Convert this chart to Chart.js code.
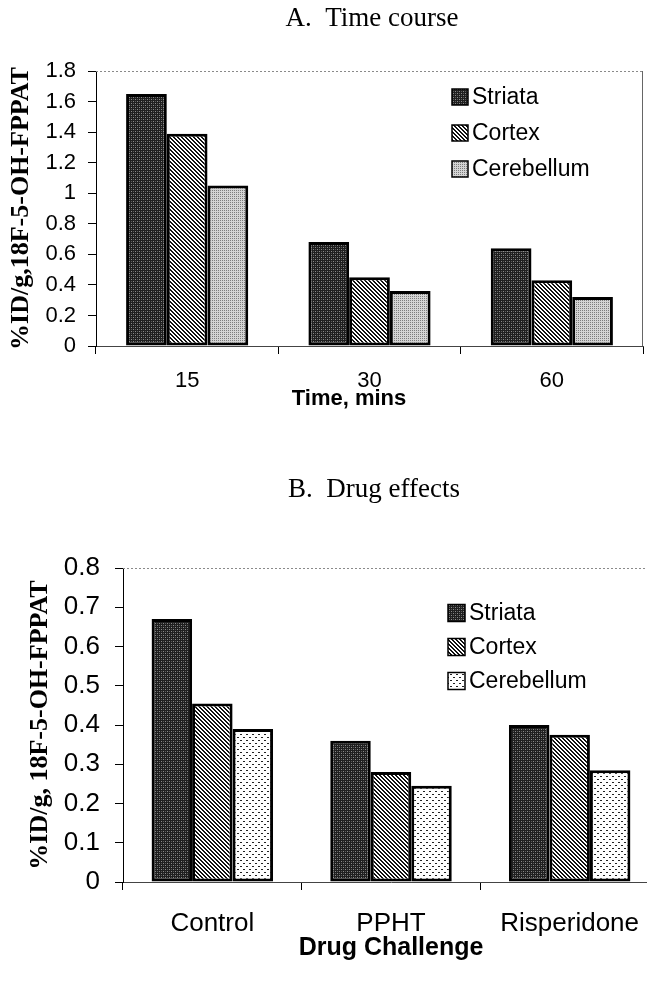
<!DOCTYPE html>
<html>
<head>
<meta charset="utf-8">
<script src="https://cdn.jsdelivr.net/npm/chart.js@4.4.1/dist/chart.umd.min.js"></script>
<style>
  html, body { margin: 0; padding: 0; background: #fff; overflow: hidden; }
  #page { position: relative; width: 647px; height: 982px; overflow: hidden; }
  #chartA { position: absolute; left: 0; top: 0; }
  #chartB { position: absolute; left: 0; top: 440px; }
</style>
</head>
<body>
<div id="page">
  <canvas id="chartA" width="647" height="420"></canvas>
  <canvas id="chartB" width="665" height="542"></canvas>
</div>
<script>
// panel A - time course
const timeLabels = ['15', '30', '60'];
const striataTime = [1.65, 0.68, 0.64];
const cortexTime = [1.39, 0.45, 0.43];
const cerebellumTime = [1.05, 0.36, 0.32];
const yTicksA = ['0', '0.2', '0.4', '0.6', '0.8', '1', '1.2', '1.4', '1.6', '1.8'];

// panel B - drug effects
const drugLabels = ['Control', 'PPHT', 'Risperidone'];
const striataDrug = [0.67, 0.36, 0.40];
const cortexDrug = [0.455, 0.28, 0.375];
const cerebellumDrug = [0.39, 0.245, 0.285];
const yTicksB = ['0', '0.1', '0.2', '0.3', '0.4', '0.5', '0.6', '0.7', '0.8'];

const seriesNames = ['Striata', 'Cortex', 'Cerebellum'];

// little tiles used as bar fills
function makePattern(size, base, dots) {
  const c = document.createElement('canvas');
  c.width = size; c.height = size;
  const g = c.getContext('2d');
  g.fillStyle = base;
  g.fillRect(0, 0, size, size);
  dots.forEach(d => {
    g.fillStyle = d[2];
    g.fillRect(d[0], d[1], 1, 1);
  });
  return g.createPattern(c, 'repeat');
}

const striataFill = makePattern(4, '#1f1f1f', [[1,1,'#8a8a8a'],[3,3,'#8a8a8a'],[1,3,'#5a5a5a'],[3,1,'#5a5a5a']]);
const cortexFill = makePattern(4, '#ffffff', [[0,0,'#111'],[1,0,'#111'],[1,1,'#111'],[2,1,'#111'],[2,2,'#111'],[3,2,'#111'],[3,3,'#111'],[0,3,'#111']]);
const cerebellumFillA = makePattern(2, '#d4d4d4', [[0,0,'#7c7c7c']]);
const cerebellumFillB = makePattern(6, '#ffffff', [[0,0,'#222'],[1,0,'#222'],[3,3,'#222'],[4,3,'#222']]);

const decor = {
  id: 'decor',
  afterDraw(chart, args, opts) {
    const ctx = chart.ctx;
    const a = chart.chartArea;
    ctx.save();
    // frame: dotted top, grey right
    ctx.strokeStyle = '#8a8a8a';
    ctx.lineWidth = 1;
    ctx.setLineDash([2, 2]);
    ctx.beginPath();
    ctx.moveTo(a.left, a.top + 0.5);
    ctx.lineTo(a.right, a.top + 0.5);
    ctx.stroke();
    ctx.setLineDash([]);
    ctx.strokeStyle = '#666';
    ctx.beginPath();
    ctx.moveTo(a.right - 0.5, a.top);
    ctx.lineTo(a.right - 0.5, a.bottom);
    ctx.stroke();

    // panel title
    ctx.fillStyle = '#000';
    ctx.textAlign = 'center';
    ctx.textBaseline = 'middle';
    ctx.font = '27px "Liberation Serif"';
    ctx.fillText(opts.title, opts.titleX, opts.titleY);

    if (opts.xTitle) {
      ctx.font = 'bold ' + opts.xTitleSize + 'px "Liberation Sans"';
      ctx.fillText(opts.xTitle, opts.xTitleX, opts.xTitleY);
    }

    // legend
    ctx.textAlign = 'left';
    ctx.font = '23px "Liberation Sans"';
    chart.data.datasets.forEach((ds, i) => {
      const cy = opts.legendY + i * opts.legendGap;
      const b = opts.legendBox;
      ctx.fillStyle = ds.backgroundColor;
      ctx.fillRect(opts.legendX, cy - b / 2, b, b);
      ctx.strokeStyle = '#000';
      ctx.lineWidth = 1.5;
      ctx.strokeRect(opts.legendX, cy - b / 2, b, b);
      ctx.fillStyle = '#000';
      ctx.fillText(ds.label, opts.legendX + b + 4, cy + 1);
    });
    ctx.restore();
  }
};

function buildChart(el, labels, sets, fills, yMax, yStep, yTicks, cfg) {
  return new Chart(el, {
    type: 'bar',
    data: {
      labels: labels,
      datasets: sets.map((d, i) => ({
        label: seriesNames[i],
        data: d,
        backgroundColor: fills[i],
        borderColor: '#000',
        borderWidth: 3,
        borderSkipped: false,
        categoryPercentage: cfg.catPct,
        barPercentage: 1
      }))
    },
    options: {
      responsive: false,
      animation: false,
      layout: { padding: cfg.padding },
      plugins: {
        legend: { display: false },
        tooltip: { enabled: false },
        decor: cfg.decor
      },
      scales: {
        x: {
          afterFit: s => { s.height = cfg.xHeight; },
          ticks: { color: '#000', font: { family: 'Liberation Sans', size: cfg.tickSize }, padding: cfg.xPad, maxRotation: 0 },
          grid: { drawOnChartArea: false, tickLength: 8, color: '#000', offset: true },
          border: { color: '#444', width: 1 },
          title: cfg.xTitle
        },
        y: {
          min: 0,
          max: yMax,
          afterFit: s => { s.width = cfg.yWidth; },
          ticks: {
            stepSize: yStep,
            color: '#000',
            font: { family: 'Liberation Sans', size: cfg.tickSize },
            padding: cfg.yPad,
            callback: (v, i) => yTicks[i]
          },
          grid: { drawOnChartArea: false, tickLength: 8, color: '#000' },
          border: { color: '#000', width: 1 },
          title: {
            display: true,
            text: cfg.yTitle,
            color: '#000',
            font: { family: 'Liberation Serif', size: 26, weight: 'bold' },
            padding: { top: cfg.yTitlePad, bottom: 0 }
          }
        }
      }
    },
    plugins: [decor]
  });
}

buildChart(document.getElementById('chartA'), timeLabels,
  [striataTime, cortexTime, cerebellumTime],
  [striataFill, cortexFill, cerebellumFillA],
  1.8, 0.2, yTicksA, {
    catPct: 0.67,
    padding: { left: 0, right: 4, top: 71, bottom: 0 },
    xHeight: 74,
    tickSize: 22,
    xPad: 14,
    yWidth: 96,
    yPad: 12,
    yTitlePad: 6,
    yTitle: '%ID/g,18F-5-OH-FPPAT',
    xTitle: { display: false },
    decor: {
      title: 'A.  Time course', titleX: 372, titleY: 19,
      xTitle: 'Time, mins', xTitleX: 349, xTitleY: 399, xTitleSize: 22,
      legendX: 452, legendY: 97, legendGap: 36, legendBox: 16
    }
  });

buildChart(document.getElementById('chartB'), drugLabels,
  [striataDrug, cortexDrug, cerebellumDrug],
  [striataFill, cortexFill, cerebellumFillB],
  0.8, 0.1, yTicksB, {
    catPct: 0.68,
    padding: { left: 0, right: 6, top: 128, bottom: 0 },
    xHeight: 100,
    tickSize: 26,
    xPad: 18,
    yWidth: 123,
    yPad: 15,
    yTitlePad: 25,
    yTitle: '%ID/g, 18F-5-OH-FPPAT',
    xTitle: {
      display: true,
      text: 'Drug Challenge',
      color: '#000',
      font: { family: 'Liberation Sans', size: 25, weight: 'bold' },
      padding: { top: 0, bottom: 19 }
    },
    decor: {
      title: 'B.  Drug effects', titleX: 374, titleY: 50,
      legendX: 448, legendY: 173, legendGap: 34, legendBox: 17
    }
  });
</script>
</body>
</html>
